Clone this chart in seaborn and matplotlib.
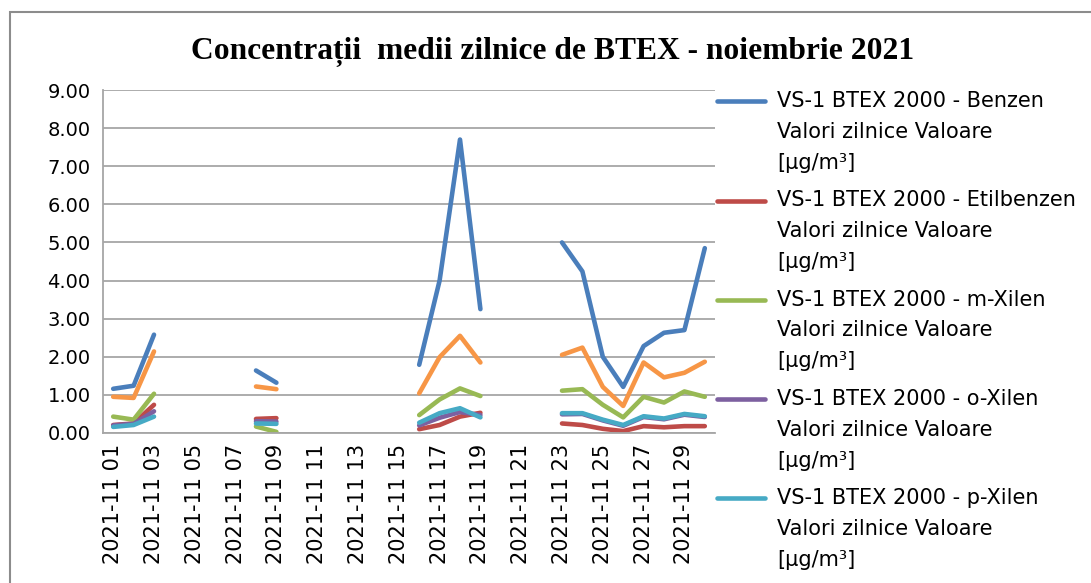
import numpy as np
import pandas as pd
import matplotlib
matplotlib.use("Agg")
import matplotlib.pyplot as plt
import seaborn as sns
from matplotlib.patches import Rectangle

nan = np.nan

# zilele lunii noiembrie 2021
days = list(range(1, 31))

benzen = [1.16, 1.24, 2.58, nan, nan, nan, nan, 1.64, 1.32, nan,
          nan, nan, nan, nan, nan, 1.79, 4.00, 7.70, 3.25, nan,
          nan, nan, 5.00, 4.24, 2.00, 1.21, 2.28, 2.63, 2.70, 4.85]
etilbenzen = [0.21, 0.25, 0.74, nan, nan, nan, nan, 0.37, 0.39, nan,
              nan, nan, nan, nan, nan, 0.10, 0.21, 0.43, 0.53, nan,
              nan, nan, 0.25, 0.21, 0.11, 0.05, 0.18, 0.15, 0.18, 0.18]
m_xilen = [0.43, 0.35, 1.03, nan, nan, nan, nan, 0.17, 0.03, nan,
           nan, nan, nan, nan, nan, 0.47, 0.88, 1.17, 0.97, nan,
           nan, nan, 1.11, 1.15, 0.74, 0.41, 0.95, 0.80, 1.09, 0.95]
o_xilen = [0.20, 0.24, 0.57, nan, nan, nan, nan, 0.31, 0.30, nan,
           nan, nan, nan, nan, nan, 0.20, 0.40, 0.55, 0.47, nan,
           nan, nan, 0.49, 0.50, 0.33, 0.19, 0.42, 0.36, 0.48, 0.42]
p_xilen = [0.16, 0.21, 0.43, nan, nan, nan, nan, 0.25, 0.24, nan,
           nan, nan, nan, nan, nan, 0.27, 0.52, 0.65, 0.41, nan,
           nan, nan, 0.52, 0.52, 0.35, 0.21, 0.44, 0.38, 0.50, 0.44]
toluen = [0.95, 0.92, 2.14, nan, nan, nan, nan, 1.22, 1.15, nan,
          nan, nan, nan, nan, nan, 1.04, 1.99, 2.55, 1.85, nan,
          nan, nan, 2.05, 2.24, 1.21, 0.71, 1.85, 1.46, 1.58, 1.87]

compusi = ["Benzen", "Etilbenzen", "m-Xilen", "o-Xilen", "p-Xilen", "Toluen"]
serii = [benzen, etilbenzen, m_xilen, o_xilen, p_xilen, toluen]
culori = ["#4A7EBB", "#BE4B48", "#98B954", "#7D60A0", "#46AAC5", "#F79646"]

# long-form, cu segmente separate ca sa ramana golurile
rows = []
for nume, vals in zip(compusi, serii):
    seg = 0
    prev_nan = True
    for d, v in zip(days, vals):
        if np.isnan(v):
            prev_nan = True
            continue
        if prev_nan:
            seg += 1
            prev_nan = False
        rows.append({"zi": d, "valoare": v, "compus": nume, "seg": f"{nume}_{seg}"})
df = pd.DataFrame(rows)

sns.set_style("white")
plt.rcParams["font.family"] = ["DejaVu Sans"]
plt.rcParams["text.color"] = "black"
plt.rcParams["xtick.color"] = "black"
plt.rcParams["ytick.color"] = "black"

fig = plt.figure(figsize=(10.91, 5.83), dpi=100)
ax = fig.add_axes([103 / 1091, 1 - 433 / 583, 612 / 1091, 343 / 583])

sns.lineplot(data=df, x="zi", y="valoare", hue="compus", hue_order=compusi,
             palette=culori, units="seg", estimator=None, sort=True,
             linewidth=3.3, solid_capstyle="round", ax=ax, legend=True)

ax.set_xlim(0.5, 30.5)
ax.set_ylim(0, 9)
ax.set_yticks(np.arange(0, 10, 1))
ax.set_yticklabels([f"{v:.2f}" for v in np.arange(0, 10, 1)], fontsize=14)
xt = days[::2]
ax.set_xticks(xt)
ax.set_xticklabels([f"2021-11 {d:02d}" for d in xt], rotation=90, fontsize=15)
ax.tick_params(axis="both", length=0)
ax.tick_params(axis="y", pad=9)
ax.tick_params(axis="x", pad=8)
ax.set_xlabel("")
ax.set_ylabel("")
ax.yaxis.grid(True, color="#A6A6A6", linewidth=1.3)
ax.set_axisbelow(True)
for s in ["top", "right"]:
    ax.spines[s].set_visible(False)
for s in ["left", "bottom"]:
    ax.spines[s].set_color("#A6A6A6")
    ax.spines[s].set_linewidth(1.3)

# legenda: doar primele cinci intrari incap in imagine
handles, labels = ax.get_legend_handles_labels()
ax.get_legend().remove()
handles, labels = handles[:5], labels[:5]
etichete = [f"VS-1 BTEX 2000 - {c}\nValori zilnice Valoare\n[µg/m³]" for c in labels]
leg = fig.legend(handles, etichete, loc="upper left",
                 bbox_to_anchor=(717 / 1091, 1 - 91 / 583),
                 frameon=False, fontsize=15, borderpad=0, borderaxespad=0,
                 handlelength=2.3, handletextpad=0.6, labelspacing=0.84)
for t in leg.get_texts():
    t.set_linespacing(1.68)
for ln in leg.get_lines():
    ln.set_linewidth(3.3)
    ln.set_ydata(np.asarray(ln.get_ydata()) + 22.5)

fig.text(553 / 1091, 1 - 52 / 583, "Concentrații  medii zilnice de BTEX - noiembrie 2021",
         ha="center", va="center", fontsize=22.7, fontweight="bold",
         family="Liberation Serif", color="black")

fig.patches.append(Rectangle((10 / 1091, -0.2), 1.2, 1.2 - 12 / 583,
                             transform=fig.transFigure, fill=False,
                             edgecolor="#8C8C8C", linewidth=1.5))

fig.savefig("out.png", dpi=100)
